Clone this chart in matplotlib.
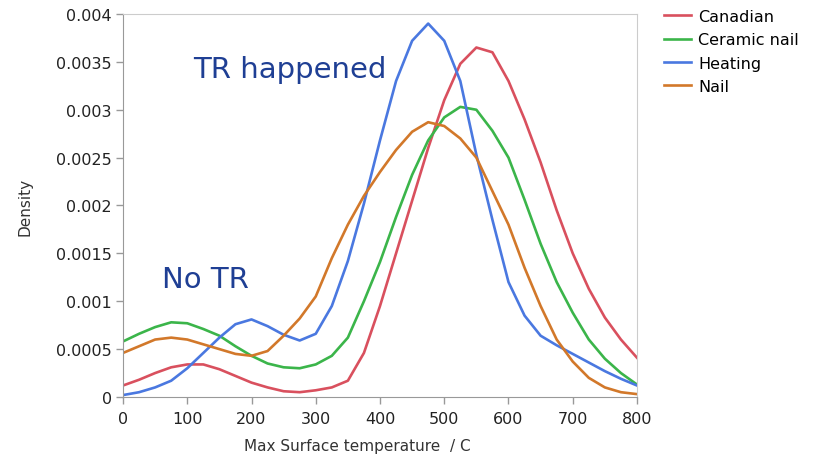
import numpy as np
import matplotlib
matplotlib.use("Agg")
import matplotlib.pyplot as plt

# Values (density vs max surface temperature)
temps = np.arange(0, 801, 25)

canadian = [0.00012, 0.00018, 0.00025, 0.00031, 0.00034, 0.00034, 0.00029, 0.00022,
            0.00015, 0.00010, 0.00006, 0.00005, 0.00007, 0.00010, 0.00017, 0.00046,
            0.00095, 0.00150, 0.00205, 0.00260, 0.00310, 0.00348, 0.00365, 0.00360,
            0.00330, 0.00290, 0.00245, 0.00195, 0.00150, 0.00113, 0.00083, 0.00060,
            0.00041]
ceramic_nail = [0.00058, 0.00066, 0.00073, 0.00078, 0.00077, 0.00071, 0.00064, 0.00053,
                0.00043, 0.00035, 0.00031, 0.00030, 0.00034, 0.00043, 0.00062, 0.00100,
                0.00141, 0.00188, 0.00232, 0.00268, 0.00292, 0.00303, 0.00300, 0.00278,
                0.00250, 0.00206, 0.00160, 0.00120, 0.00088, 0.00060, 0.00040, 0.00025,
                0.00013]
heating = [0.00002, 0.00005, 0.00010, 0.00017, 0.00030, 0.00046, 0.00062, 0.00076,
           0.00081, 0.00074, 0.00065, 0.00059, 0.00066, 0.00095, 0.00142, 0.00202,
           0.00268, 0.00330, 0.00372, 0.00390, 0.00372, 0.00330, 0.00253, 0.00185,
           0.00120, 0.00085, 0.00064, 0.00054, 0.00045, 0.00036, 0.00027, 0.00019,
           0.00012]
nail = [0.00046, 0.00053, 0.00060, 0.00062, 0.00060, 0.00055, 0.00050, 0.00045,
        0.00043, 0.00048, 0.00064, 0.00082, 0.00105, 0.00145, 0.00180, 0.00210,
        0.00235, 0.00258, 0.00277, 0.00287, 0.00283, 0.00270, 0.00250, 0.00215,
        0.00180, 0.00135, 0.00095, 0.00060, 0.00037, 0.00020, 0.00010, 0.00005,
        0.00003]

series = [("Canadian", canadian, "#d9505e"),
          ("Ceramic nail", ceramic_nail, "#3bb54a"),
          ("Heating", heating, "#4a78e0"),
          ("Nail", nail, "#d2782a")]

x_ticks = [0, 100, 200, 300, 400, 500, 600, 700, 800]
y_ticks = [0, 0.0005, 0.001, 0.0015, 0.002, 0.0025, 0.003, 0.0035, 0.004]
y_labels = ["0", "0.0005", "0.001", "0.0015", "0.002", "0.0025", "0.003", "0.0035", "0.004"]

plt.rcParams["font.family"] = ["DejaVu Sans"]

fig = plt.figure(figsize=(8.13, 4.6), dpi=100)
ax = fig.add_axes([0.1513, 0.1348, 0.6322, 0.8326])

for name, vals, col in series:
    ax.plot(temps, vals, color=col, linewidth=1.9, label=name,
            solid_joinstyle="round")

ax.set_xlim(0, 800)
ax.set_ylim(0, 0.004)
ax.set_xticks(x_ticks)
ax.set_yticks(y_ticks)
ax.set_yticklabels(y_labels)
ax.tick_params(direction="out", length=5, color="#999999", labelsize=11.5,
               labelcolor="#222222", width=1)
ax.tick_params(axis="x", pad=5)
ax.tick_params(axis="y", pad=3)

for side in ["top", "right"]:
    ax.spines[side].set_color("#cccccc")
for side in ["left", "bottom"]:
    ax.spines[side].set_color("#999999")

ax.set_xlabel("Max Surface temperature  / C", fontsize=11, color="#333333")
ax.xaxis.set_label_coords(0.455, -0.108)
ax.set_ylabel("Density", fontsize=11, color="#333333")
ax.yaxis.set_label_coords(-0.177, 0.5)

# annotations
ax.text(109, 0.00343, "TR happened", fontsize=21, color="#1f3f94",
        va="center", ha="left")
ax.text(61, 0.00123, "No TR", fontsize=21, color="#1f3f94",
        va="center", ha="left")

leg = ax.legend(loc="upper left", bbox_to_anchor=(1.04, 1.03), frameon=False,
                fontsize=11.5, handlelength=1.7, handletextpad=0.45,
                labelspacing=0.52, borderaxespad=0)

fig.savefig("out.png", dpi=100)
